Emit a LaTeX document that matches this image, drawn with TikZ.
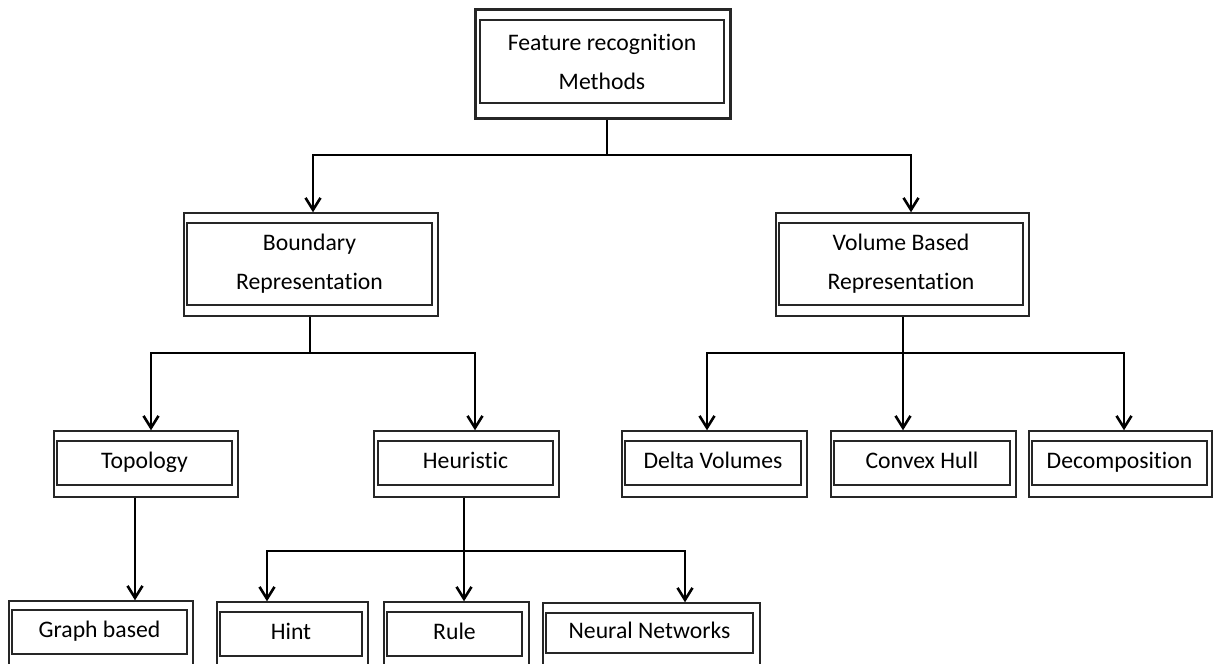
\documentclass[tikz,border=0pt]{standalone}
\usepackage{fontspec}
\setmainfont{Carlito}[Ligatures=NoCommon]
\usetikzlibrary{arrows.meta}
\begin{document}
\begin{tikzpicture}[x=1pt,y=-1pt,
  outerbox/.style={draw=black!85,line width=1.4pt,inner sep=0pt,minimum width=#1},
  innerbox/.style={draw=black!85,line width=1.4pt,inner sep=0pt,minimum width=#1,
    align=center,font=\fontsize{23.7}{39}\selectfont},
  oneline/.style={text height=17pt,text depth=7pt},
  conn/.style={line width=2.8pt,line join=miter},
  arr/.style={conn,-{Straight Barb[length=12pt,width=15pt,line width=2.6pt]}}]
\useasboundingbox (0,0) rectangle (1213,664);
\clip (0,0) rectangle (1213,664);

% root
\node[outerbox=255pt,minimum height=109pt,line width=3pt] (root) at (602.5,63.5) {};
\node[innerbox=244pt,minimum height=83pt] (root-in) at (602,61.5) {Feature recognition\\Methods};

% second level
\node[outerbox=254pt,minimum height=103pt] (bnd) at (311,264.5) {};
\node[innerbox=245pt,minimum height=82pt] (bnd-in) at (309.5,264) {Boundary\\Representation};
\node[outerbox=253pt,minimum height=103pt] (vol) at (902.5,264.5) {};
\node[innerbox=244pt,minimum height=82pt] (vol-in) at (901,264) {Volume Based\\Representation};

% third level
\node[outerbox=184pt,minimum height=66pt] (topo) at (146,464) {};
\node[innerbox=175pt,minimum height=44pt,oneline] (topo-in) at (144.5,463) {Topology};
\node[outerbox=185pt,minimum height=66pt] (heur) at (466.5,464) {};
\node[innerbox=175pt,minimum height=44pt,oneline] (heur-in) at (465.5,463) {Heuristic};
\node[outerbox=185pt,minimum height=66pt] (delta) at (714.5,464) {};
\node[innerbox=176pt,minimum height=44pt,oneline] (delta-in) at (713,463) {Delta Volumes};
\node[outerbox=185pt,minimum height=66pt] (convex) at (923.5,464) {};
\node[innerbox=176pt,minimum height=44pt,oneline] (convex-in) at (922,463) {Convex Hull};
\node[outerbox=183pt,minimum height=66pt] (decomp) at (1120.5,464) {};
\node[innerbox=175pt,minimum height=44pt,oneline] (decomp-in) at (1119.5,463) {Decomposition};

% fourth level
\node[outerbox=184pt,minimum height=79pt] (graph) at (101,640.5) {};
\node[innerbox=175pt,minimum height=44pt,oneline] (graph-in) at (99.5,632) {Graph based};
\node[outerbox=151pt,minimum height=78pt] (hint) at (292.5,641) {};
\node[innerbox=142pt,minimum height=44pt,oneline] (hint-in) at (291,634) {Hint};
\node[outerbox=145pt,minimum height=78pt] (rule) at (456.5,641) {};
\node[innerbox=135pt,minimum height=44pt,oneline] (rule-in) at (454.5,634) {Rule};
\node[outerbox=217pt,minimum height=77pt] (neural) at (651.5,641.5) {};
\node[innerbox=207pt,minimum height=40pt,oneline] (neural-in) at (649.5,633) {Neural Networks};

% bus junctions
\coordinate (j1) at (607,155);
\coordinate (j2) at (310,353);
\coordinate (j3) at (903,353);
\coordinate (j4) at (464,551);

% root to second level
\draw[conn] (root.south -| j1) -- (j1);
\draw[arr] (j1) -| ([xshift=2pt]bnd.north);
\draw[arr] (j1) -| ([xshift=8.5pt]vol.north);

% boundary representation branch
\draw[conn] (bnd.south -| j2) -- (j2);
\draw[arr] (j2) -| ([xshift=5pt]topo.north);
\draw[arr] (j2) -| ([xshift=8.5pt]heur.north);

% volume based branch
\draw[arr] (vol.south -| j3) -- (j3) -- (delta.north -| j3);
\draw[arr] (j3) -| ([xshift=-7.5pt]delta.north);
\draw[arr] (j3) -| ([xshift=3.5pt]decomp.north);

% topology branch
\draw[arr] ([xshift=-11pt]topo.south) -- ([xshift=34pt]graph.north);

% heuristic branch
\draw[arr] (heur.south -| j4) -- (j4) -- (rule.north -| j4);
\draw[arr] (j4) -| ([xshift=-25.5pt]hint.north);
\draw[arr] (j4) -| ([xshift=33.5pt]neural.north);
\end{tikzpicture}
\end{document}
